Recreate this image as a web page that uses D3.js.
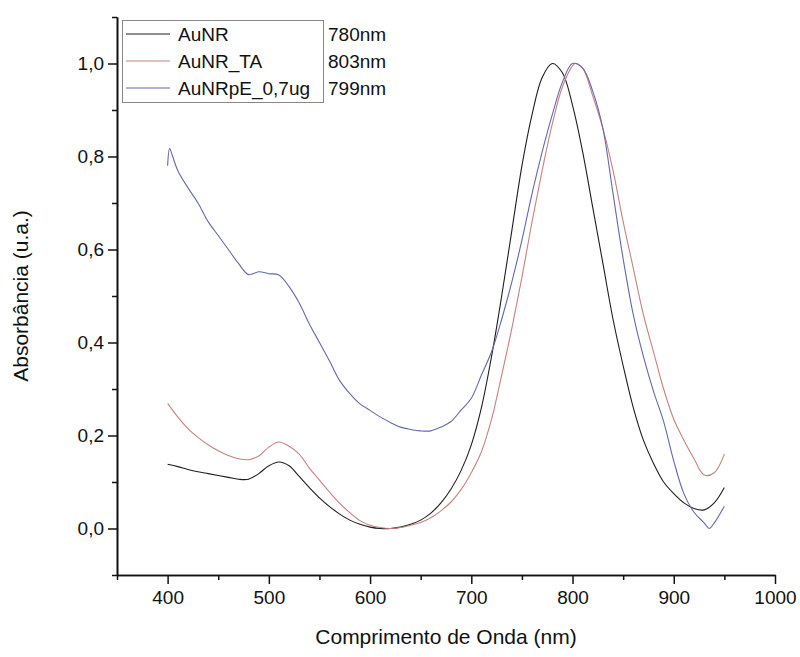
<!DOCTYPE html>
<html>
<head>
<meta charset="utf-8">
<script src="https://cdn.jsdelivr.net/npm/d3@7"></script>
<style>
  body { margin: 0; background: #fff; }
  text { font-family: "Liberation Sans", Arial, sans-serif; fill: #111; }
</style>
</head>
<body>
<div id="chart"></div>
<script>
// wavelengths (nm) for each series
const wlAuNR = [400,410,420,430,440,450,460,470,480,490,500,510,520,530,540,550,560,570,580,590,600,610,620,630,640,650,660,670,680,690,700,710,720,730,740,750,760,770,780,790,800,810,820,830,840,850,860,870,880,890,900,910,920,930,940,950];
const absAuNR = [0.138,0.133,0.127,0.122,0.118,0.114,0.110,0.106,0.106,0.118,0.135,0.143,0.135,0.112,0.088,0.066,0.047,0.031,0.018,0.009,0.003,0.000,0.000,0.003,0.009,0.018,0.033,0.055,0.085,0.125,0.180,0.260,0.370,0.500,0.640,0.780,0.890,0.970,1.000,0.980,0.910,0.810,0.690,0.570,0.450,0.350,0.260,0.190,0.140,0.100,0.075,0.055,0.043,0.040,0.055,0.088];

const wlAuNRTA = [400,410,420,430,440,450,460,470,480,490,500,510,520,530,540,550,560,570,580,590,600,610,620,630,640,650,660,670,680,690,700,710,720,730,740,750,760,770,780,790,800,803,810,820,830,840,850,860,870,880,890,900,910,920,930,940,950];
const absAuNRTA = [0.269,0.240,0.215,0.196,0.180,0.167,0.157,0.150,0.148,0.156,0.175,0.186,0.177,0.160,0.130,0.104,0.078,0.054,0.034,0.017,0.007,0.002,0.000,0.002,0.007,0.013,0.023,0.038,0.057,0.084,0.120,0.165,0.235,0.330,0.430,0.540,0.660,0.770,0.870,0.950,0.995,1.000,0.990,0.930,0.860,0.770,0.660,0.560,0.460,0.380,0.300,0.235,0.190,0.150,0.115,0.120,0.160];

const wlAuNRpE = [400,402,405,410,420,430,440,450,460,470,480,490,500,510,520,530,540,550,560,570,580,590,600,610,620,630,640,650,660,670,680,690,700,710,720,730,740,750,760,770,780,790,800,810,820,830,840,850,860,870,880,890,900,910,920,930,935,940,950];
const absAuNRpE = [0.780,0.817,0.800,0.770,0.733,0.700,0.660,0.630,0.600,0.570,0.546,0.552,0.548,0.545,0.520,0.485,0.440,0.400,0.360,0.318,0.290,0.268,0.254,0.240,0.228,0.218,0.213,0.210,0.210,0.218,0.230,0.255,0.280,0.330,0.380,0.450,0.530,0.620,0.720,0.810,0.890,0.960,1.000,0.990,0.940,0.860,0.720,0.580,0.460,0.370,0.295,0.230,0.145,0.075,0.035,0.012,0.000,0.012,0.048];

const seriesNames = ["AuNR", "AuNR_TA", "AuNRpE_0,7ug"];
const peakLabels = ["780nm", "803nm", "799nm"];
const seriesColors = ["#1e1e1e", "#c98080", "#6468ad"];

const xMajor = [400,500,600,700,800,900,1000];
const xMinor = [350,450,550,650,750,850,950];
const yMajor = [0,0.2,0.4,0.6,0.8,1.0];
const yMinor = [-0.1,0.1,0.3,0.5,0.7,0.9,1.1];

const W = 800, H = 657;
const svg = d3.select('#chart').append('svg')
  .attr('width', W)
  .attr('height', H);

const x = d3.scaleLinear().domain([350, 1000]).range([117, 775]);
const y = d3.scaleLinear().domain([-0.1, 1.1]).range([575, 17]);

const fmt = d => d3.format('.1f')(d).replace('.', ',');

// x axis
const xAxis = svg.append('g').attr('transform', 'translate(0,' + y(-0.1) + ')');
xAxis.call(d3.axisBottom(x).tickValues(xMajor).tickSize(9).tickPadding(7).tickFormat(d3.format('d')).tickSizeOuter(0));
xAxis.append('g').call(d3.axisBottom(x).tickValues(xMinor).tickSize(5).tickFormat('').tickSizeOuter(0));

// y axis
const yAxis = svg.append('g').attr('transform', 'translate(' + x(350) + ',0)');
yAxis.call(d3.axisLeft(y).tickValues(yMajor).tickSize(9).tickPadding(4).tickFormat(fmt).tickSizeOuter(0));
yAxis.append('g').call(d3.axisLeft(y).tickValues(yMinor).tickSize(5).tickFormat('').tickSizeOuter(0));

svg.selectAll('.domain').attr('stroke', '#111').attr('stroke-width', 1.6);
svg.selectAll('.tick line').attr('stroke', '#111').attr('stroke-width', 1.5);
svg.selectAll('.tick text').style('font-size', '19px').attr('fill', '#111')
  .style('font-family', '"Liberation Sans", Arial, sans-serif');

// axis titles
svg.append('text')
  .attr('x', (x(350) + x(1000)) / 2)
  .attr('y', 644)
  .attr('text-anchor', 'middle')
  .style('font-size', '21px')
  .text('Comprimento de Onda (nm)');

svg.append('text')
  .attr('transform', 'translate(28,' + y(0.5) + ') rotate(-90)')
  .attr('text-anchor', 'middle')
  .style('font-size', '21px')
  .text('Absorbância (u.a.)');

// curves
const line = d3.line()
  .x(d => x(d[0]))
  .y(d => y(d[1]))
  .curve(d3.curveCatmullRom);

const data = [
  d3.zip(wlAuNR, absAuNR),
  d3.zip(wlAuNRTA, absAuNRTA),
  d3.zip(wlAuNRpE, absAuNRpE)
];

svg.selectAll('.curve')
  .data(data)
  .join('path')
  .attr('class', 'curve')
  .attr('fill', 'none')
  .attr('stroke', (d, i) => seriesColors[i])
  .attr('stroke-width', 1.1)
  .attr('d', line);

// legend
const legend = svg.append('g');
legend.append('rect')
  .attr('x', 122.5).attr('y', 20.5)
  .attr('width', 201).attr('height', 82)
  .attr('fill', '#fff')
  .attr('stroke', '#888')
  .attr('stroke-width', 1);

const rows = legend.selectAll('.row')
  .data(seriesNames)
  .join('g')
  .attr('transform', (d, i) => 'translate(0,' + (34 + i * 27) + ')');

rows.append('line')
  .attr('x1', 126).attr('x2', 170)
  .attr('stroke', (d, i) => seriesColors[i])
  .attr('stroke-width', 1.1);

rows.append('text')
  .attr('x', 178).attr('dy', '0.35em')
  .style('font-size', '19px')
  .text(d => d);

rows.append('text')
  .attr('x', 328).attr('dy', '0.35em')
  .style('font-size', '19px')
  .text((d, i) => peakLabels[i]);
</script>
</body>
</html>
